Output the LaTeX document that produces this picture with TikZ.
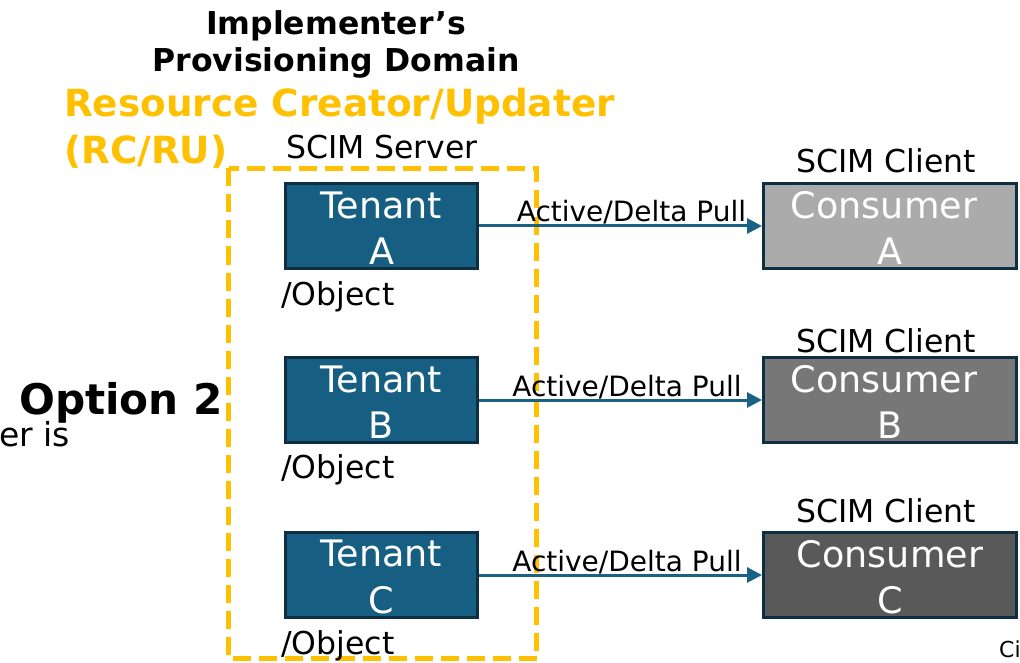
\documentclass[tikz,border=0pt]{standalone}
\usepackage{fontspec}
\setmainfont{DejaVu Sans}
\usetikzlibrary{arrows.meta}

\definecolor{tenantfill}{RGB}{23,95,130}
\definecolor{boxedge}{RGB}{14,46,66}
\definecolor{flow}{RGB}{26,98,133}
\definecolor{rcgold}{RGB}{255,192,0}
\definecolor{consA}{RGB}{171,171,171}
\definecolor{consB}{RGB}{119,119,119}
\definecolor{consC}{RGB}{89,89,89}

\tikzset{
  tenantbox/.style={draw=boxedge, line width=3pt, fill=tenantfill,
    minimum width=192pt, minimum height=85pt, inner sep=0pt},
  consumerbox/.style={draw=boxedge, line width=3pt,
    minimum width=253pt, minimum height=85pt, inner sep=0pt},
  boxtext/.style={inner sep=0pt, text=white, align=center,
    font=\fontsize{36.5}{46.5}\selectfont},
  plaintext/.style={inner sep=0pt, font=\fontsize{31.5}{38}\selectfont},
  headtext/.style={inner sep=0pt, font=\bfseries\fontsize{31.5}{37.5}\selectfont},
  rclabel/.style={inner sep=0pt, text=rcgold, font=\bfseries\fontsize{37.4}{46.5}\selectfont},
  pullarrow/.style={-{Triangle[length=15pt,width=15pt]}, draw=flow, line width=3pt},
  pulllabel/.style={inner sep=0pt, anchor=base, font=\fontsize{28}{30}\selectfont},
  domainedge/.style={draw=rcgold, line width=5pt, dash pattern=on 18pt off 8pt}
}

\begin{document}
\begin{tikzpicture}[x=1pt,y=-1pt]
\useasboundingbox (0,0) rectangle (1020,663);
\clip (0,0) rectangle (1020,663);

% provisioning domain boundary
\draw[domainedge] (228.5,168.5) rectangle (536.5,658.5);

% headings
\node[headtext, anchor=base] (impl) at (336,34.3) {Implementer’s};
\node[headtext, anchor=base] (prov) at (336,71.7) {Provisioning Domain};
\node[rclabel, anchor=base west] (rc1) at (64,116.7) {Resource Creator/Updater};
\node[rclabel, anchor=base west] (rc2) at (64,163.3) {(RC/RU)};
\node[plaintext, anchor=base] (server) at (382,159) {SCIM Server};

% left-hand fragments
\node[inner sep=0pt, anchor=base west, font=\bfseries\fontsize{42.2}{42}\selectfont] (opt) at (19,414) {Option 2};
\node[plaintext, anchor=base east, font=\fontsize{33}{38}\selectfont] (eris) at (70,446) {er is};
\node[inner sep=0pt, anchor=base west, font=\fontsize{22}{22}\selectfont] (ci) at (999,657) {Ci};

% tenants
\node[tenantbox] (ta) at (381.5,226) {};
\node[tenantbox] (tb) at (381.5,400) {};
\node[tenantbox] (tc) at (381.5,575) {};
\node[boxtext] (tat) at ([yshift=-2pt]ta.center) {Tenant\\A};
\node[boxtext] (tbt) at ([yshift=-2pt]tb.center) {Tenant\\B};
\node[boxtext] (tct) at ([yshift=-2pt]tc.center) {Tenant\\C};

\node[plaintext, anchor=base west] (oa) at (281,305) {/Object};
\node[plaintext, anchor=base west] (ob) at (281,478) {/Object};
\node[plaintext, anchor=base west] (oc) at (281,654) {/Object};

% consumers
\node[consumerbox, fill=consA] (ca) at (890,226) {};
\node[consumerbox, fill=consB] (cb) at (890,400) {};
\node[consumerbox, fill=consC] (cc) at (890,575) {};
\node[boxtext] (cat) at ([yshift=-2pt]ca.center) {Consumer\hspace*{12pt}\\A};
\node[boxtext] (cbt) at ([yshift=-2pt]cb.center) {Consumer\hspace*{12pt}\\B};
\node[boxtext] (cct) at ([yshift=-2pt]cc.center) {Consumer\\C};

\node[plaintext, anchor=base] (sa) at (886,173) {SCIM Client};
\node[plaintext, anchor=base] (sb) at (886,352) {SCIM Client};
\node[plaintext, anchor=base] (sc) at (886,522) {SCIM Client};

% pulls
\draw[pullarrow] (ta.east) -- node[pulllabel, xshift=11pt, yshift=4pt] {Active/Delta Pull} (ca.west);
\draw[pullarrow] (tb.east) -- node[pulllabel, xshift=6.5pt, yshift=4pt] {Active/Delta Pull} (cb.west);
\draw[pullarrow] (tc.east) -- node[pulllabel, xshift=6.5pt, yshift=4pt] {Active/Delta Pull} (cc.west);
\end{tikzpicture}
\end{document}
